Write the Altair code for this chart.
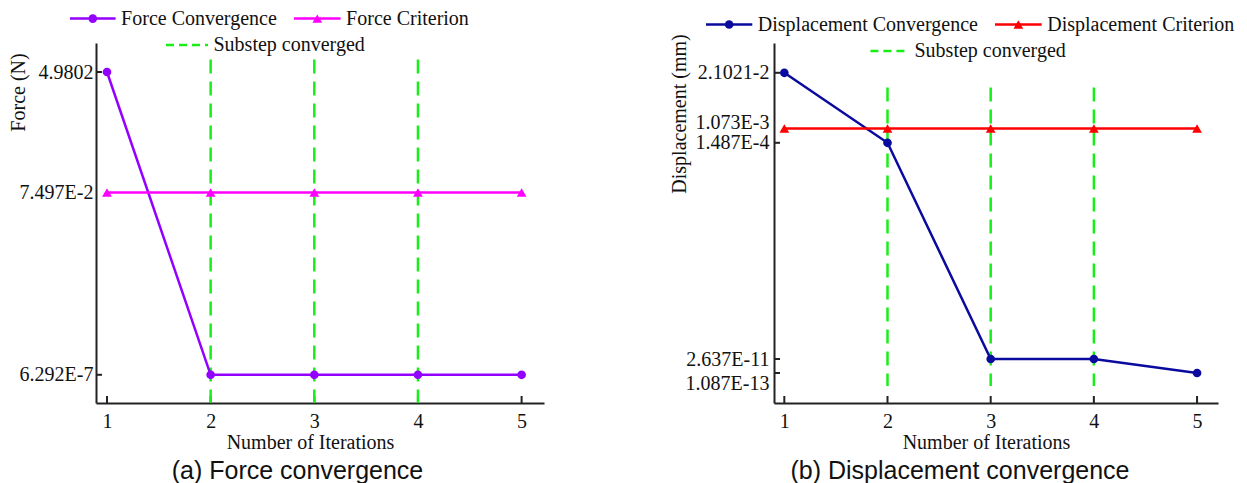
import altair as alt
import pandas as pd

# ---------------- data ----------------
iterations = [1, 2, 3, 4, 5]
force_convergence = [4.9802, 6.292e-7, 6.292e-7, 6.292e-7, 6.292e-7]
force_criterion = [7.497e-2, 7.497e-2, 7.497e-2, 7.497e-2, 7.497e-2]
disp_convergence = [2.1021e-2, 1.487e-4, 2.637e-11, 2.637e-11, 1.087e-13]
disp_criterion = [1.073e-3, 1.073e-3, 1.073e-3, 1.073e-3, 1.073e-3]
substep_iterations = [2, 3, 4]

force_tick_values = [4.9802, 7.497e-2, 6.292e-7]
force_tick_labels = ["4.9802", "7.497E-2", "6.292E-7"]
force_marked_ticks = [4.9802, 6.292e-7]
disp_tick_values = [2.1021e-2, 1.073e-3, 1.487e-4, 2.637e-11, 1.087e-13]
disp_tick_labels = ["2.1021-2", "1.073E-3", "1.487E-4", "2.637E-11", "1.087E-13"]
disp_marked_ticks = [2.1021e-2, 1.487e-4, 2.637e-11, 1.087e-13]

# ---------------- layout / style ----------------
W_L, W_R, H = 448, 444, 360
SERIF = "Liberation Serif"
SANS = "Liberation Sans"
TXT = "#111111"
AXC = "#222222"
PURPLE, MAGENTA = "#9400FF", "#FF00FF"
NAVY, RED = "#0A0A9E", "#FF0000"
GREEN = "#19EE19"
CIRCLE_SIZE, TRI_SIZE = 75, 95

# schematic (piecewise) y-axis break points, as in the original figure
force_scale_domain = [0, 6.292e-7, 7.497e-2, 4.9802, 6.2]
force_scale_range = [H, 331.8, 149.5, 29, 0]
disp_scale_domain = [0, 1.087e-13, 2.637e-11, 1.487e-4, 1.073e-3, 2.1021e-2, 0.03]
disp_scale_range = [H, 330, 316, 99.8, 85.5, 29.8, 0]


def label_expr(values, labels):
    expr = "''"
    for v, l in reversed(list(zip(values, labels))):
        expr = f"abs(datum.value / {v!r} - 1) < 1e-6 ? '{l}' : " + expr
    return expr


def one_row():
    return pd.DataFrame({"k": [0]})


def legend_item(x0, x1, y, color, shape, label, dashed=False):
    rule = alt.Chart(one_row()).mark_rule(
        color=color, strokeWidth=2.5, strokeDash=[8, 5] if dashed else [1, 0]
    ).encode(x=alt.value(x0), x2=alt.value(x1), y=alt.value(y))
    layers = [rule]
    if shape is not None:
        layers.append(
            alt.Chart(one_row()).mark_point(
                shape=shape, filled=True,
                size=CIRCLE_SIZE if shape == "circle" else TRI_SIZE,
                color=color, opacity=1
            ).encode(x=alt.value((x0 + x1) / 2), y=alt.value(y))
        )
    layers.append(
        alt.Chart(one_row()).mark_text(
            align="left", baseline="middle", font=SERIF, fontSize=20, color=TXT
        ).encode(x=alt.value(x1 + 5.5), y=alt.value(y), text=alt.value(label))
    )
    return layers


def panel(conv, crit, conv_name, crit_name, conv_color, crit_color, width,
          xdomain, ydomain, yrange, tick_values, tick_labels, marked_ticks,
          ytitle, ytitle_x, ytitle_y, ylabel_pad, dash_top, dash_bottom,
          legend_rows, caption, caption_dx, raise_test, lower_test):
    long = pd.DataFrame({
        "iteration": iterations * 2,
        "value": conv + crit,
        "series": [conv_name] * len(conv) + [crit_name] * len(crit),
    })
    x_enc = alt.X(
        "iteration:Q",
        scale=alt.Scale(domain=xdomain, nice=False, zero=False),
        axis=alt.Axis(
            values=iterations, format="d", title="Number of Iterations",
            ticks=False, tickSize=0, grid=False, labelPadding=8,
            labelOverlap=False,
            labelFont=SERIF, labelFontSize=20, labelColor=TXT,
            titleFont=SERIF, titleFontSize=20, titleFontWeight="normal",
            titleColor=TXT, titleX=width / 2 - 10, titleY=45,
            titleBaseline="alphabetic",
            domainColor=AXC, domainWidth=2,
        ),
    )
    label_baseline = {"condition": {"test": raise_test, "value": "alphabetic"},
                      "value": "middle"}
    label_offset = {"condition": {"test": lower_test, "value": 10}, "value": 0}
    y_enc = alt.Y(
        "value:Q",
        scale=alt.Scale(type="linear", domain=ydomain, range=yrange,
                        nice=False, zero=False),
        axis=alt.Axis(
            values=tick_values, labelExpr=label_expr(tick_values, tick_labels),
            ticks=False, tickSize=0, grid=False, labelPadding=ylabel_pad,
            labelOverlap=False,
            labelFont=SERIF, labelFontSize=20, labelColor=TXT,
            labelBaseline=label_baseline, labelOffset=label_offset,
            title=ytitle, titleFont=SERIF, titleFontSize=20,
            titleFontWeight="normal", titleColor=TXT, titleAngle=270,
            titleX=ytitle_x, titleY=ytitle_y, titleAlign="center",
            titleBaseline="middle",
            domainColor=AXC, domainWidth=2,
        ),
    )
    color = alt.Color("series:N", scale=alt.Scale(domain=[conv_name, crit_name],
                                                  range=[conv_color, crit_color]),
                      legend=None)
    shape = alt.Shape("series:N", scale=alt.Scale(domain=[conv_name, crit_name],
                                                  range=["circle", "triangle-up"]),
                      legend=None)
    size = alt.Size("series:N", scale=alt.Scale(domain=[conv_name, crit_name],
                                                range=[CIRCLE_SIZE, TRI_SIZE]),
                    legend=None)

    base = alt.Chart(long)
    dashes = alt.Chart(pd.DataFrame({"iteration": substep_iterations})).mark_rule(
        color=GREEN, strokeWidth=2.5, strokeDash=[14, 8]
    ).encode(x=x_enc, y=alt.value(dash_top), y2=alt.value(dash_bottom))
    lines = base.mark_line(strokeWidth=2.5).encode(x=x_enc, y=y_enc, color=color,
                                                   detail="series:N")
    points = base.mark_point(filled=True, opacity=1).encode(
        x=x_enc, y=y_enc, color=color, shape=shape, size=size)
    yticks = alt.Chart(pd.DataFrame({"value": marked_ticks})).mark_rule(
        color=AXC, strokeWidth=2
    ).encode(y=y_enc, x=alt.value(0), x2=alt.value(6))
    xticks = alt.Chart(pd.DataFrame({"iteration": iterations})).mark_rule(
        color=AXC, strokeWidth=2
    ).encode(x=x_enc, y=alt.value(H), y2=alt.value(H - 7))

    legend_layers = []
    for row in legend_rows:
        legend_layers += legend_item(*row)

    return alt.layer(xticks, dashes, lines, points, yticks, *legend_layers).properties(
        width=width, height=H,
        title=alt.TitleParams(
            text=caption, orient="bottom", anchor="middle", frame="group",
            font=SANS, fontSize=25, fontWeight="normal", color=TXT,
            dx=caption_dx, offset=7,
        ),
    )


left = panel(
    force_convergence, force_criterion, "Force Convergence", "Force Criterion",
    PURPLE, MAGENTA, W_L, [0.894, 5.216], force_scale_domain, force_scale_range,
    force_tick_values, force_tick_labels, force_marked_ticks,
    "Force (N)", -78, 49, 3, 16.5, H,
    [(-26, 19.6, -24.4, PURPLE, "circle", "Force Convergence"),
     (198, 244.6, -24.4, MAGENTA, "triangle-up", "Force Criterion"),
     (70, 112, 2, GREEN, None, "Substep converged", True)],
    "(a) Force convergence", -22.5, "datum.value < -1", "datum.value < -1",
)

right = panel(
    disp_convergence, disp_criterion, "Displacement Convergence",
    "Displacement Criterion", NAVY, RED, W_R, [0.9, 5.203],
    disp_scale_domain, disp_scale_range,
    disp_tick_values, disp_tick_labels, disp_marked_ticks,
    "Displacement (mm)", -95, 70.5, 5, 44.5, 343,
    [(-68, -21.7, -18.5, NAVY, "circle", "Displacement Convergence"),
     (221, 267.7, -18.5, RED, "triangle-up", "Displacement Criterion"),
     (96.4, 135, 8, GREEN, None, "Substep converged", True)],
    "(b) Displacement convergence", -36,
    "abs(datum.value / 1.073e-3 - 1) < 1e-6", "datum.value < 1e-12",
)

chart = alt.hconcat(left, right, spacing=125).resolve_scale(
    color="independent", shape="independent", size="independent"
).properties(padding=0).configure_view(stroke=None)

chart.save("out.html", embed_options={"renderer": "svg", "actions": False})
